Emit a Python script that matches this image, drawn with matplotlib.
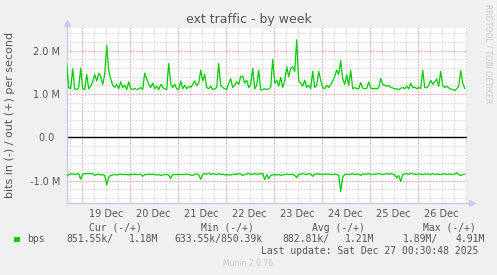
import numpy as np
import matplotlib
matplotlib.use("Agg")
import matplotlib.pyplot as plt
from matplotlib.transforms import blended_transform_factory

# hourly samples, starting Thu Dec 18 16:30 (one per hour for 200 h)
bps_out = [
    1.70, 1.15, 1.12, 1.58, 1.12, 1.10, 1.14, 1.60, 1.12, 1.10,
    1.45, 1.12, 1.18, 1.28, 1.45, 1.30, 1.48, 1.40, 1.22, 1.45,
    2.12, 1.55, 1.35, 1.20, 1.15, 1.22, 1.12, 1.28, 1.15, 1.20,
    1.10, 1.28, 1.12, 1.10, 1.13, 1.10, 1.12, 1.15, 1.10, 1.48,
    1.35, 1.22, 1.15, 1.25, 1.12, 1.18, 1.10, 1.22, 1.15, 1.12,
    1.10, 1.70, 1.25, 1.15, 1.22, 1.12, 1.10, 1.30, 1.12, 1.20,
    1.12, 1.18, 1.15, 1.22, 1.30, 1.20, 1.25, 1.55, 1.30, 1.45,
    1.15, 1.12, 1.18, 1.10, 1.12, 1.15, 1.70, 1.20, 1.15, 1.12,
    1.10, 1.25, 1.35, 1.15, 1.20, 1.28, 1.22, 1.40, 1.41, 1.25,
    1.32, 1.15, 1.22, 1.59, 1.12, 1.20, 1.55, 1.09, 1.10, 1.12,
    1.10, 1.12, 1.15, 1.80, 1.25, 1.32, 1.18, 1.38, 1.15, 1.30,
    1.63, 1.40, 1.59, 1.63, 1.52, 2.25, 1.30, 1.25, 1.18, 1.32,
    1.15, 1.20, 1.12, 1.52, 1.15, 1.20, 1.52, 1.32, 1.15, 1.12,
    1.20, 1.15, 1.22, 1.30, 1.40, 1.55, 1.45, 1.77, 1.35, 1.22,
    1.44, 1.20, 1.55, 1.12, 1.15, 1.12, 1.12, 1.26, 1.14, 1.12,
    1.13, 1.28, 1.14, 1.12, 1.13, 1.12, 1.14, 1.36, 1.22, 1.20,
    1.18, 1.20, 1.15, 1.14, 1.12, 1.12, 1.10, 1.13, 1.15, 1.12,
    1.18, 1.12, 1.25, 1.14, 1.16, 1.12, 1.15, 1.13, 1.55, 1.15,
    1.14, 1.20, 1.32, 1.22, 1.28, 1.35, 1.18, 1.52, 1.20, 1.15,
    1.18, 1.14, 1.12, 1.10, 1.08, 1.12, 1.18, 1.54, 1.25, 1.13,
]
bps_in = [
    -0.90, -0.86, -0.85, -0.84, -0.86, -0.85, -0.84, -0.97, -0.85, -0.84,
    -0.84, -0.84, -0.84, -0.84, -0.88, -0.86, -0.85, -0.87, -0.86, -0.88,
    -1.10, -0.92, -0.88, -0.87, -0.86, -0.87, -0.86, -0.85, -0.86, -0.86,
    -0.86, -0.87, -0.85, -0.86, -0.85, -0.86, -0.86, -0.85, -0.90, -0.86,
    -0.86, -0.85, -0.86, -0.85, -0.86, -0.87, -0.86, -0.88, -0.87, -0.86,
    -0.86, -0.87, -0.95, -0.86, -0.86, -0.86, -0.86, -0.86, -0.86, -0.86,
    -0.85, -0.86, -0.87, -0.88, -0.85, -0.85, -0.86, -0.97, -0.86, -0.84,
    -0.85, -0.83, -0.86, -0.84, -0.85, -0.86, -0.84, -0.86, -0.85, -0.87,
    -0.86, -0.87, -0.87, -0.86, -0.85, -0.86, -0.84, -0.85, -0.88, -0.86,
    -0.85, -0.83, -0.86, -0.85, -0.84, -0.86, -0.84, -0.85, -0.83, -0.98,
    -0.86, -0.96, -0.88, -0.87, -0.86, -0.87, -0.86, -0.88, -0.87, -0.86,
    -0.85, -0.86, -0.86, -0.85, -0.88, -0.93, -0.86, -0.85, -0.84, -0.85,
    -0.86, -0.84, -0.85, -0.90, -0.85, -0.85, -0.84, -0.86, -0.85, -0.85,
    -0.85, -0.85, -0.86, -0.86, -0.85, -0.86, -0.88, -1.25, -0.92, -0.86,
    -0.85, -0.86, -0.85, -0.84, -0.86, -0.85, -0.85, -0.88, -0.85, -0.85,
    -0.85, -0.84, -0.85, -0.86, -0.85, -0.85, -0.84, -0.85, -0.86, -0.85,
    -0.84, -0.85, -0.84, -0.85, -0.87, -0.94, -0.88, -1.02, -0.86, -0.85,
    -0.84, -0.86, -0.83, -0.85, -0.85, -0.86, -0.84, -0.85, -0.86, -0.85,
    -0.85, -0.85, -0.86, -0.84, -0.86, -0.85, -0.85, -0.86, -0.85, -0.84,
    -0.86, -0.85, -0.85, -0.86, -0.85, -0.82, -0.86, -0.88, -0.86, -0.85,
]
day_labels = ["19 Dec", "20 Dec", "21 Dec", "22 Dec", "23 Dec", "24 Dec", "25 Dec", "26 Dec"]
first_midnight = 7.5  # hours after the left edge
y_ticks = [-1e6, 0, 1e6, 2e6]
y_tick_labels = ["-1.0 M", "0.0  ", "1.0 M", "2.0 M"]

headers = ["Cur (-/+)", "Min (-/+)", "Avg (-/+)", "Max (-/+)"]
values = ["851.55k/", "1.18M", "633.55k/850.39k", "882.81k/", "1.21M", "1.89M/", "4.91M"]

W, H = 497, 275
BG = "#f0f0f0"
TXT = "#555555"
GREEN = "#00cc00"
AXIS = "#c4ccf4"


def fx(x):
    return x / W


def fy(y):
    return 1 - y / H


fig = plt.figure(figsize=(W / 100, H / 100), dpi=100, facecolor=BG)
ax = fig.add_axes([fx(66.7), fy(202.7), 400 / W, 175 / H])
ax.set_facecolor("white")

hours = np.arange(len(bps_out))
ax.plot(hours, np.array(bps_out) * 1e6, color=GREEN, lw=0.9, zorder=3)
ax.plot(hours, np.array(bps_in) * 1e6, color=GREEN, lw=0.9, zorder=3)
ax.axhline(0, color="black", lw=1.0, zorder=2)

ax.set_xlim(0, 200)
ax.set_ylim(-1.51e6, 2.53e6)

midnights = first_midnight + 24 * np.arange(len(day_labels))
ax.set_xticks(midnights)
ax.set_xticks(np.arange(1.5, 200, 6), minor=True)
ax.set_xticklabels([])
ax.set_yticks(y_ticks)
ax.set_yticklabels(y_tick_labels)
ax.set_yticks(np.arange(-1.4e6, 2.6e6, 0.2e6), minor=True)

dots = (0, (1.4, 1.4))
ax.grid(which="minor", color="#dedede", lw=0.72, linestyle=dots, antialiased=False, zorder=0)
ax.grid(which="major", color="#f0b4b4", lw=0.72, linestyle=dots, antialiased=False, zorder=1)
ax.tick_params(which="both", length=0, labelsize=7, labelcolor=TXT)
ax.tick_params(axis="y", pad=4.8)

trans = blended_transform_factory(ax.transData, ax.transAxes)
for i, lab in enumerate(day_labels):
    ax.text(midnights[i] + 12, -0.035, lab, transform=trans, ha="center", va="top",
            fontsize=7, color=TXT)

for s in ax.spines.values():
    s.set_visible(False)
ax.plot([0, 0], [0, 1 + 6 / 175], transform=ax.transAxes, color=AXIS, lw=1, clip_on=False)
ax.plot([0], [1 + 5 / 175], transform=ax.transAxes, marker="^", ms=5, color=AXIS, clip_on=False)
ax.plot([0, 1 + 6 / 400], [0, 0], transform=ax.transAxes, color=AXIS, lw=1, clip_on=False)
ax.plot([1 + 5 / 400], [0], transform=ax.transAxes, marker=">", ms=5, color=AXIS, clip_on=False)

fig.text(fx(248.5), fy(20), "ext traffic - by week", ha="center", va="center", fontsize=9, color=TXT)
fig.text(fx(10), fy(115), "bits in (-) / out (+) per second", rotation=90, ha="center", va="center",
         fontsize=8, color=TXT)
fig.text(fx(488), fy(54), "RRDTOOL / TOBI OETIKER", rotation=270, ha="center", va="center",
         fontsize=5.6, color="#cccccc")

mono = {"family": "DejaVu Sans Mono", "fontsize": 7, "color": TXT}
for x, h in zip([89.3, 200.7, 312.3, 422.7], headers):
    fig.text(fx(x), fy(227.7), h, ha="left", va="center", **mono)

fig.patches.append(plt.Rectangle((fx(14), fy(242)), 5.5 / W, 5.5 / H, transform=fig.transFigure,
                                 facecolor=GREEN, edgecolor="none"))
fig.text(fx(27), fy(239.3), "bps", ha="left", va="center", **mono)
for x, v in zip([66.7, 129, 174.3, 282.7, 345.3, 403.3, 456], values):
    fig.text(fx(x), fy(239.3), v, ha="left", va="center", **mono)

fig.text(fx(261), fy(250.7), "Last update: Sat Dec 27 00:30:48 2025", ha="left", va="center", **mono)
fig.text(fx(248), fy(264), "Munin 2.0.76", ha="center", va="center", fontsize=5.5, color="#c8c8c8")

fig.savefig("out.png", dpi=100, facecolor=BG)
